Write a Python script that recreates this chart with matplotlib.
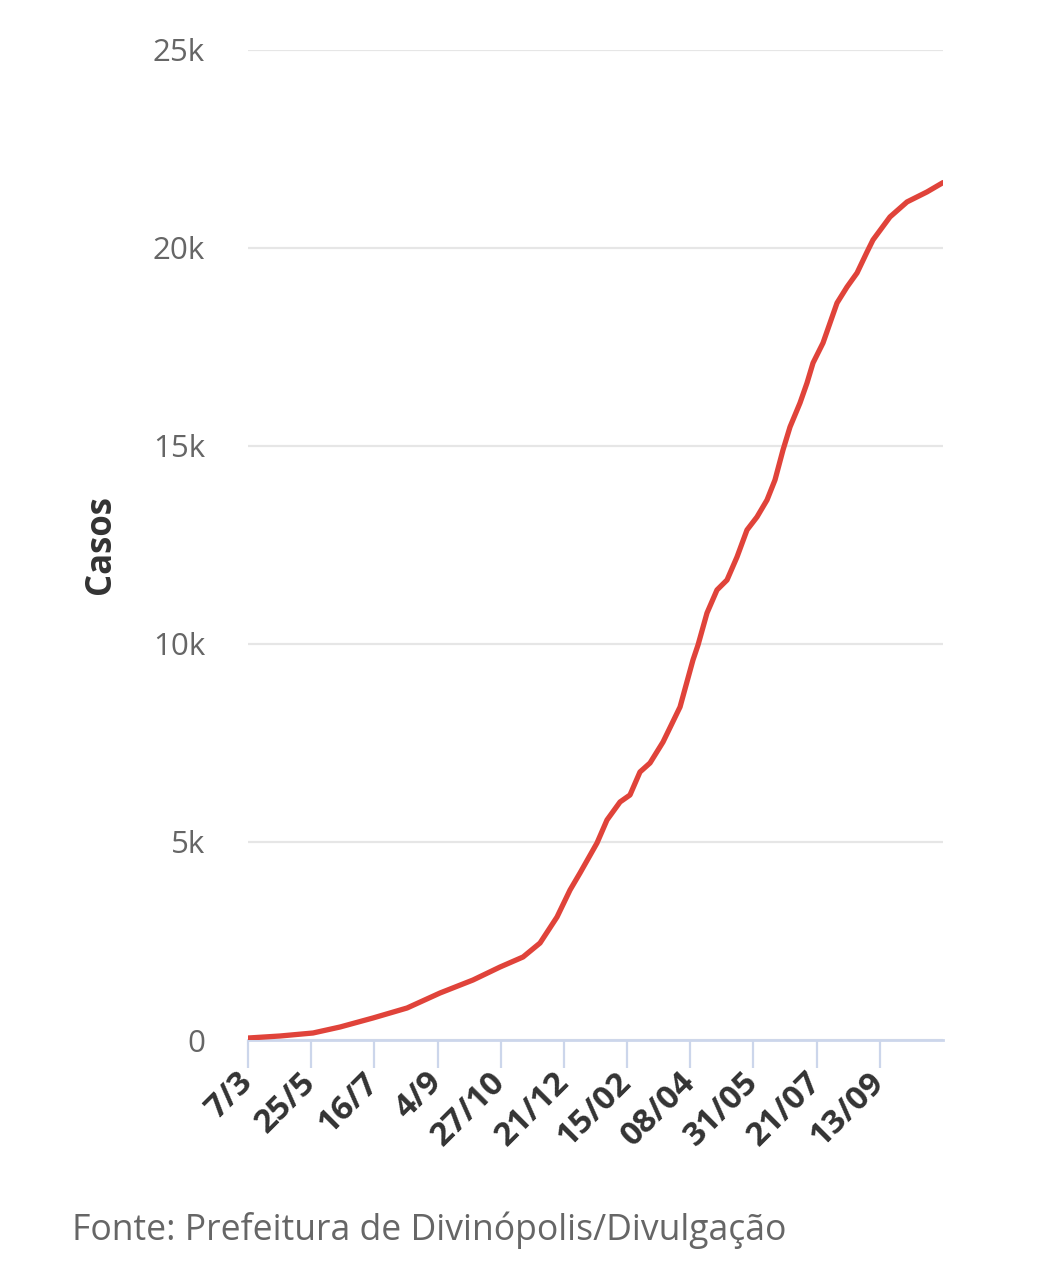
import matplotlib.pyplot as plt

# posição ao longo do eixo (em intervalos de rótulo) e casos acumulados
posicao = [0, 0.506, 1.029, 1.456, 1.978, 2.517, 3.039, 3.561, 3.989, 4.353,
           4.622, 4.891, 5.097, 5.255, 5.524, 5.682, 5.888, 6.046, 6.204, 6.363,
           6.569, 6.838, 7.043, 7.123, 7.265, 7.423, 7.582, 7.740, 7.898, 8.056,
           8.215, 8.341, 8.468, 8.579, 8.737, 8.848, 8.943, 9.101, 9.323, 9.481,
           9.640, 9.798, 9.892, 10.161, 10.431, 10.747, 11.0]
casos = [50, 101, 177, 328, 556, 808, 1187, 1515, 1843, 2096,
         2449, 3106, 3788, 4217, 4975, 5556, 6010, 6187, 6768, 6995,
         7525, 8409, 9596, 9975, 10783, 11364, 11616, 12197, 12879, 13207,
         13636, 14141, 14899, 15480, 16086, 16591, 17096, 17601, 18611, 19015,
         19369, 19899, 20202, 20783, 21162, 21414, 21650]

rotulos_x = ['7/3', '25/5', '16/7', '4/9', '27/10', '21/12', '15/02',
             '08/04', '31/05', '21/07', '13/09']
ticks_y = [0, 5000, 10000, 15000, 20000, 25000]
rotulos_y = ['0', '5k', '10k', '15k', '20k', '25k']

plt.rcParams['font.family'] = ['Open Sans', 'DejaVu Sans']

fig = plt.figure(figsize=(10.43, 12.8), dpi=100)
ax = fig.add_axes([0.2378, 0.1875, 0.6663, 0.7735])

ax.plot(posicao, casos, color='#e0433a', lw=3.8, solid_capstyle='round',
        solid_joinstyle='round', zorder=3)

ax.set_xlim(0, 11)
ax.set_ylim(0, 25000)

ax.set_yticks(ticks_y)
ax.set_yticklabels(rotulos_y, fontsize=22.5, color='#666666')
ax.tick_params(axis='y', length=0, pad=31)
ax.yaxis.grid(True, color='#e6e6e6', lw=1.6)
ax.set_axisbelow(True)

ax.set_xticks(range(len(rotulos_x)))
ax.set_xticklabels(rotulos_x, fontsize=24, fontweight='bold',
                   color='#333333', rotation=45, ha='right', va='center',
                   rotation_mode='anchor')
ax.tick_params(axis='x', length=20, width=1.6, color='#ccd6eb', pad=7)

for s in ['top', 'right', 'left']:
    ax.spines[s].set_visible(False)
ax.spines['bottom'].set_color('#ccd6eb')
ax.spines['bottom'].set_linewidth(2)

ax.set_ylabel('Casos', fontsize=25, fontweight='bold', color='#333333',
              labelpad=24)

fig.text(0.069, 0.039, 'Fonte: Prefeitura de Divinópolis/Divulgação',
         fontsize=25.6, color='#666666', va='center', ha='left')

fig.savefig('out.png', dpi=100, facecolor='white')
